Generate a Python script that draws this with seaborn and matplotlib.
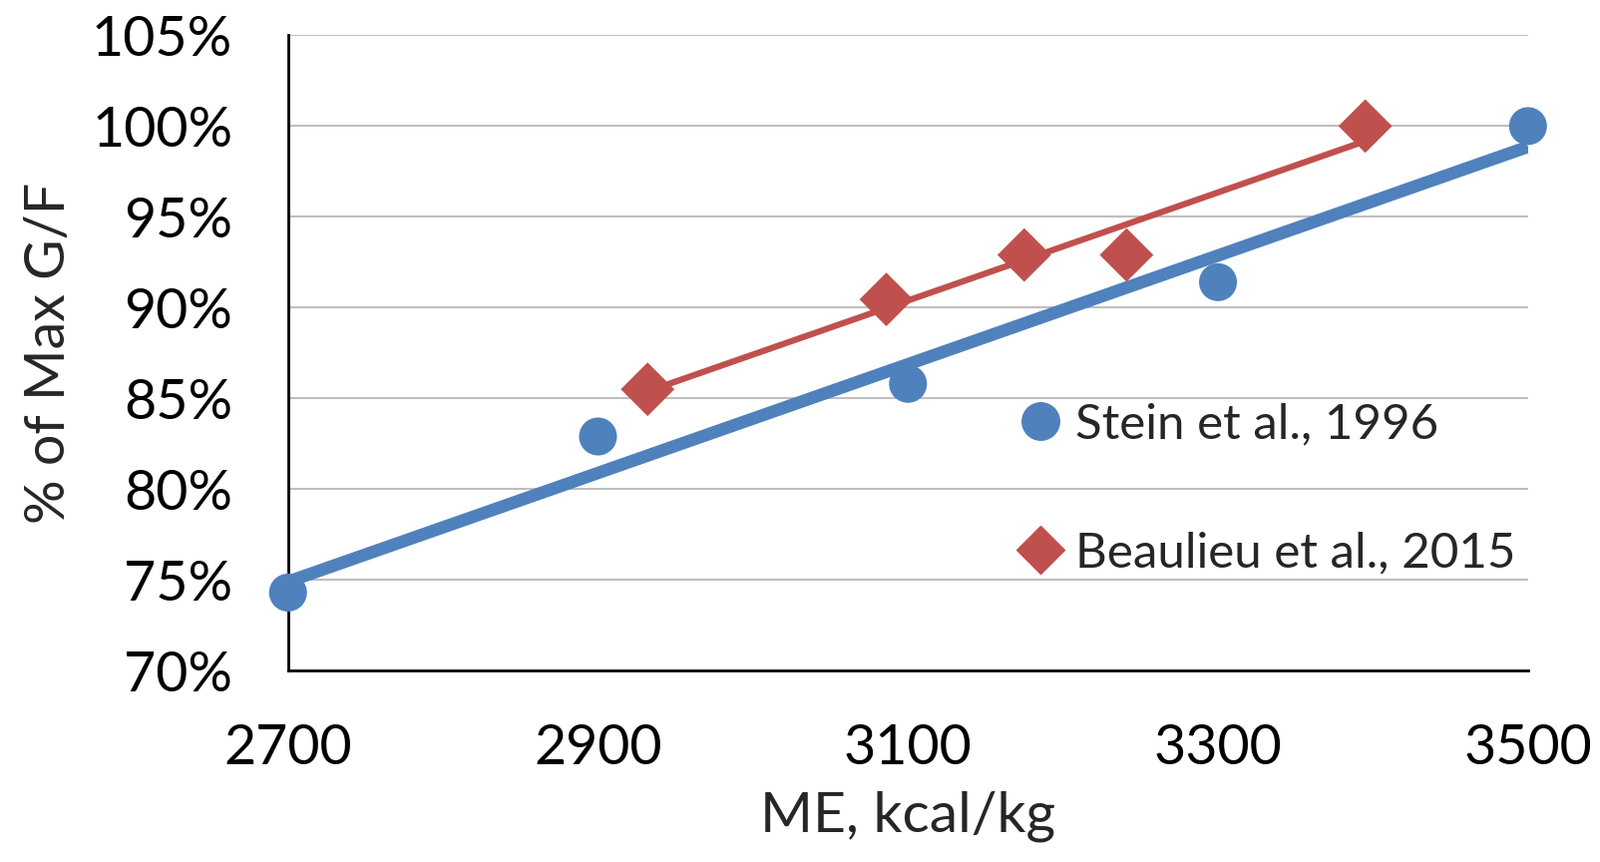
import pandas as pd
import numpy as np
import matplotlib
matplotlib.use('Agg')
import matplotlib.pyplot as plt
import seaborn as sns
from matplotlib.lines import Line2D
from matplotlib.ticker import PercentFormatter

# Data (ME in kcal/kg, response in % of max G/F)
stein_me = [2700, 2900, 3100, 3300, 3500]
stein_gf = [74.3, 82.9, 85.8, 91.4, 100.0]
beaulieu_me = [2932, 3086, 3175, 3241, 3395]
beaulieu_gf = [85.5, 90.45, 92.9, 92.9, 100.0]
labels = ["Stein et al., 1996", "Beaulieu et al., 2015"]
x_ticks = [2700, 2900, 3100, 3300, 3500]
y_ticks = [70, 75, 80, 85, 90, 95, 100, 105]

BLUE = "#4F81BD"
RED = "#C0504D"

df = pd.DataFrame({
    "ME": stein_me + beaulieu_me,
    "GF": stein_gf + beaulieu_gf,
    "study": [labels[0]] * len(stein_me) + [labels[1]] * len(beaulieu_me),
})

sns.set_style("white")
plt.rcParams['font.family'] = ['Lato', 'DejaVu Sans']

fig = plt.figure(figsize=(16.04, 8.64), dpi=100)
ax = fig.add_axes([0.180, 0.222, 0.775, 0.737])

# linear trendlines, like the spreadsheet ones
sns.regplot(data=df[df.study == labels[0]], x="ME", y="GF", scatter=False, ci=None,
            color=BLUE, line_kws=dict(lw=9, solid_capstyle='butt', zorder=2), ax=ax)
sns.regplot(data=df[df.study == labels[1]], x="ME", y="GF", scatter=False, ci=None,
            color=RED, line_kws=dict(lw=4.5, solid_capstyle='butt', zorder=2), ax=ax)

sns.scatterplot(data=df, x="ME", y="GF", hue="study", style="study",
                markers={labels[0]: 'o', labels[1]: 'D'},
                palette={labels[0]: BLUE, labels[1]: RED},
                s=750, edgecolor=None, linewidth=0, legend=False, zorder=3,
                clip_on=False, ax=ax)

ax.set_xlim(2700, 3500)
ax.set_ylim(70, 105)
ax.set_xticks(x_ticks)
ax.set_yticks(y_ticks)
ax.yaxis.set_major_formatter(PercentFormatter(xmax=100, decimals=0))
ax.grid(axis='y', color='#BFBFBF', lw=1.5)
ax.grid(axis='x', visible=False)
ax.set_axisbelow(True)

for side in ['top', 'right']:
    ax.spines[side].set_visible(False)
for side in ['left', 'bottom']:
    ax.spines[side].set_color('black')
    ax.spines[side].set_linewidth(2)

ax.tick_params(axis='both', length=0, labelsize=40, colors='black')
ax.tick_params(axis='y', pad=40)
ax.tick_params(axis='x', pad=38)
ax.set_xlabel("ME, kcal/kg", fontsize=41, labelpad=12)
ax.set_ylabel("% of Max G/F", fontsize=40, labelpad=12)

handles = [
    Line2D([], [], ls='none', marker='o', color=BLUE, markersize=27),
    Line2D([], [], ls='none', marker='D', color=RED, markersize=24),
]
ax.legend(handles, labels, loc='center left', bbox_to_anchor=(0.587, 0.286),
          frameon=False, fontsize=35.5, handlelength=1.0, handletextpad=0.2,
          labelspacing=1.72, borderaxespad=0, borderpad=0)

fig.savefig("out.png", dpi=100)
